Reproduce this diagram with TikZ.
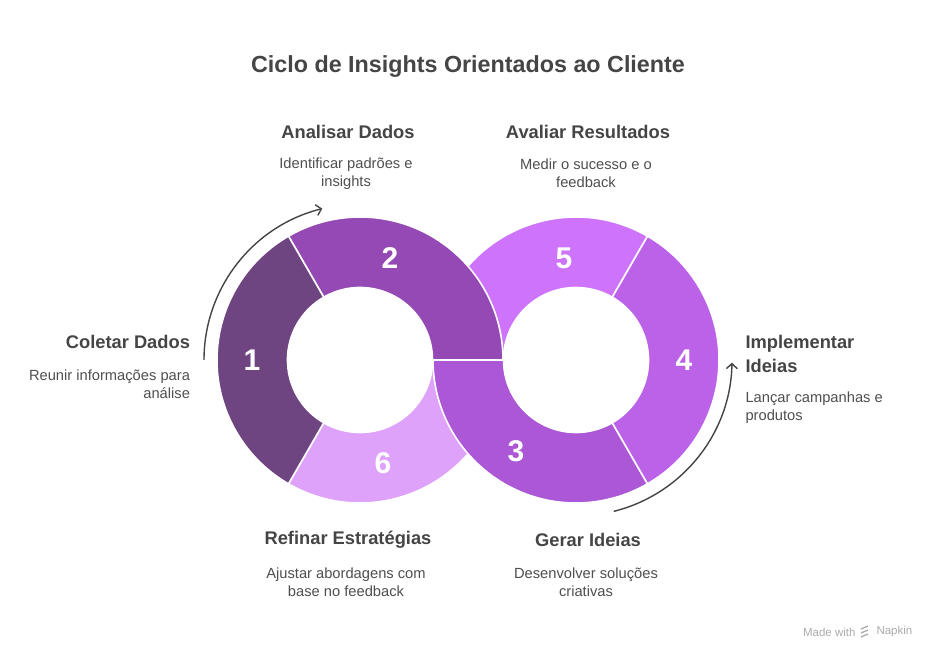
\documentclass[tikz,border=0pt]{standalone}
\usepackage{fontspec}
\setmainfont{Liberation Sans}
\usetikzlibrary{arrows.meta,calc}
\definecolor{cOne}{HTML}{6E4581}
\definecolor{cTwo}{HTML}{9549B4}
\definecolor{cThree}{HTML}{AB57D6}
\definecolor{cFour}{HTML}{BC62E8}
\definecolor{cFive}{HTML}{CE73FC}
\definecolor{cSix}{HTML}{DFA2FB}
\definecolor{headgray}{HTML}{454545}
\definecolor{descgray}{HTML}{4F4F4F}
\definecolor{markgray}{HTML}{ABABAB}
\newcommand\ringseg[4]{%
  \fill[#1, draw=white, line width=1.6pt]
    ($(#2)+(#3:143pt)$) arc[start angle=#3, end angle=#4, radius=143pt]
    -- ($(#2)+(#4:72.5pt)$) arc[start angle=#4, end angle=#3, radius=72.5pt] -- cycle;}
\tikzset{
  num/.style={text=white, font=\fontsize{30}{30}\selectfont\bfseries},
  head/.style={text=headgray, font=\fontsize{18.3}{24}\selectfont\bfseries},
  desc/.style={text=descgray, font=\fontsize{14.7}{18}\selectfont},
  cyclearrow/.style={draw=headgray, line width=1.4pt, -{Straight Barb[length=5pt,width=11pt]}},
}
\begin{document}
\begin{tikzpicture}[x=1pt,y=1pt]
\useasboundingbox[fill=white] (0,0) rectangle (936,660);
\coordinate (L) at (360,300);
\coordinate (R) at (576,300);
% segments
\ringseg{cFive}{R}{60}{180}
\ringseg{cTwo}{L}{0}{120}
\ringseg{cSix}{L}{240}{360}
\ringseg{cThree}{R}{180}{300}
\ringseg{cOne}{L}{120}{240}
\ringseg{cFour}{R}{-60}{60}
% numbers
\node[num] (n1) at (252,300) {1};
\node[num] (n2) at (390,402) {2};
\node[num] (n3) at (516,209) {3};
\node[num] (n4) at (684,300) {4};
\node[num] (n5) at (564,402) {5};
\node[num] (n6) at (383,197) {6};
% arrows
\coordinate (la) at ($(L)+(180:156pt)$);
\draw[cyclearrow] (la) arc[start angle=180, end angle=104, radius=156pt];
\coordinate (ra) at ($(R)+(-76:156pt)$);
\draw[cyclearrow] (ra) arc[start angle=-76, end angle=-1, radius=156pt];
% title
\node[text=headgray, font=\fontsize{23.3}{28}\selectfont\bfseries] (title) at (468,593) {Ciclo de Insights Orientados ao Cliente};
% labels
\node[head] (h2) at (348,528) {Analisar Dados};
\node[desc, align=center] (d2) at (346,486.5) {Identificar padrões e\\insights};
\node[head] (h5) at (588,528) {Avaliar Resultados};
\node[desc, align=center] (d5) at (586,486.5) {Medir o sucesso e o\\feedback};
\node[head, anchor=east] (h1) at (193.5,318) {Coletar Dados};
\node[desc, align=right, anchor=east] (d1) at (193.5,275.5) {Reunir informações para\\análise};
\node[head, align=left, anchor=west] (h4) at (742,306) {Implementar\\Ideias};
\node[desc, align=left, anchor=west] (d4) at (742,252) {Lançar campanhas e\\produtos};
\node[head] (h6) at (348,120) {Refinar Estratégias};
\node[desc, align=center] (d6) at (346,78) {Ajustar abordagens com\\base no feedback};
\node[head] (h3) at (588,120) {Gerar Ideias};
\node[desc, align=center] (d3) at (586,78) {Desenvolver soluções\\criativas};
% watermark
\node[text=markgray, font=\fontsize{11.5}{13}\selectfont, anchor=east] (mw) at (859,28) {Made with};
\node[text=markgray, font=\fontsize{11.5}{13}\selectfont, anchor=west] (np) at (873,28) {Napkin};
\foreach \yy in {23,27,31} {\draw[markgray, line width=1.3pt] (861,\yy) -- (868,\yy+3);}
\end{tikzpicture}
\end{document}
